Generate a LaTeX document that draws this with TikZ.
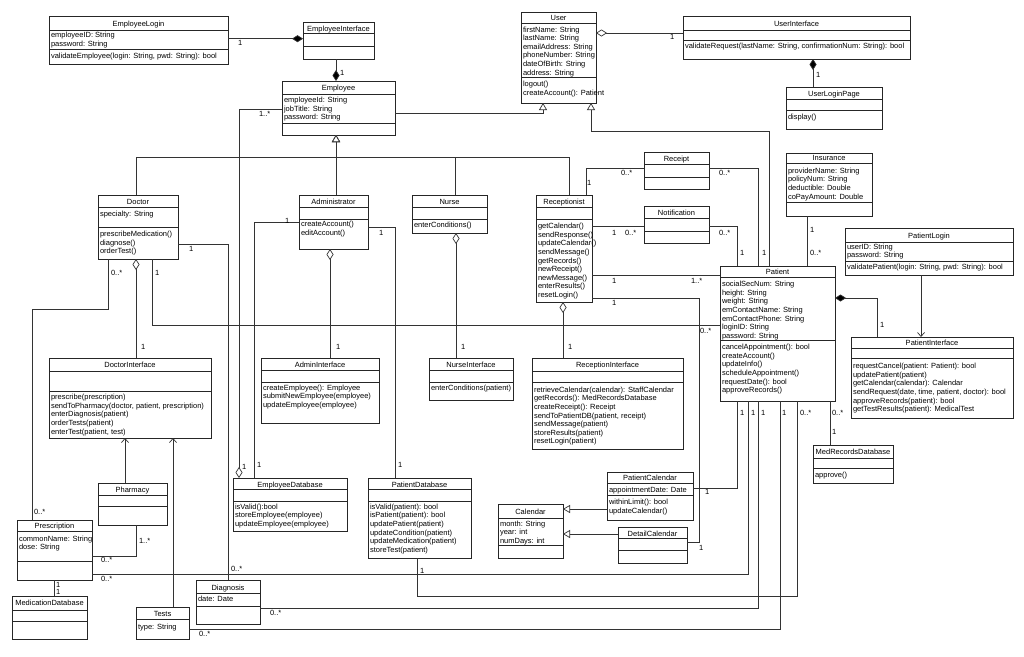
\documentclass[tikz,border=0pt]{standalone}
\usepackage{fontspec}
\setmainfont{Liberation Sans}
\usetikzlibrary{arrows.meta}
\newcounter{lb}
\tikzset{
 cls/.style={draw=black!85, line width=0.8pt, fill=white, inner sep=0pt, outer sep=0pt},
 sepl/.style={draw=black!85, line width=0.8pt},
 txt/.style={inner sep=0pt, outer sep=0pt, font=\fontsize{7.5}{8.6}\selectfont, anchor=base west},
 ttl/.style={txt, anchor=base},
 lnk/.style={draw=black!80, line width=0.7pt},
 comp/.style={lnk, -{Diamond[fill=black,length=11pt,width=7pt]}},
 aggr/.style={lnk, -{Diamond[open,fill=white,length=11pt,width=7pt]}},
 gen/.style={lnk, -{Triangle[open,fill=white,length=7pt,width=8pt]}},
 dep/.style={lnk, -{Straight Barb[length=4pt,width=7pt]}},
}
\newcommand\ubox[5]{\node[cls, minimum width={(#4)-(#2)}, minimum height={(#5)-(#3)}] (#1) at ({((#2)+(#4))/2},{((#3)+(#5))/2}) {};}
\newcommand\usep[2]{\draw[sepl] (#1.west |- 0,#2) -- (#1.east |- 0,#2);}
\newcommand\uttl[3]{\stepcounter{lb}\node[ttl, yshift=-2.7pt] (t\thelb) at (#1.north |- 0,#2) {#3};}
\newcommand\ulst[3]{\foreach \t [count=\i from 0] in {#3} {\stepcounter{lb}\node[txt, xshift=2pt, yshift={-2.7pt-\i*8.6pt}] (t\thelb) at (#1.west |- 0,#2) {\t};}}
\newcommand\ml[3]{\stepcounter{lb}\node[txt, yshift=-2.7pt] (m\thelb) at (#1,#2) {#3};}
\begin{document}
\begin{tikzpicture}[x=1pt,y=-1pt]
\useasboundingbox[fill=white] (0,0) rectangle (1024,656);
% ---------- classes ----------
\ubox{EL}{49}{16}{228}{64}\usep{EL}{30}\usep{EL}{49}
\uttl{EL}{23.5}{EmployeeLogin}
\ulst{EL}{35}{employeeID: String, password: String}
\ulst{EL}{56}{{validateEmployee(login: String, pwd: String): bool}}

\ubox{EI}{303}{22}{374}{59}\usep{EI}{33.5}\usep{EI}{46}
\uttl{EI}{28.5}{EmployeeInterface}

\ubox{Emp}{282}{81}{395}{135}\usep{Emp}{94}\usep{Emp}{123}
\uttl{Emp}{88}{Employee}
\ulst{Emp}{100}{employeeId: String, jobTitle: String, password: String}

\ubox{User}{521}{12}{596}{103}\usep{User}{23.5}\usep{User}{77.5}
\uttl{User}{18}{User}
\ulst{User}{29.3}{firstName: String, lastName: String, emailAddress: String, phoneNumber: String, dateOfBirth: String, address: String}
\ulst{User}{84}{logout(), createAccount(): Patient}

\ubox{UI}{683}{16}{910}{59}\usep{UI}{30}\usep{UI}{40}
\uttl{UI}{24}{UserInterface}
\ulst{UI}{46}{{validateRequest(lastName: String, confirmationNum: String): bool}}

\ubox{ULP}{786}{87}{882}{129}\usep{ULP}{99}\usep{ULP}{110}
\uttl{ULP}{94}{UserLoginPage}
\ulst{ULP}{117}{display()}

\ubox{Ins}{786}{153}{872}{216}\usep{Ins}{163.5}\usep{Ins}{202}
\uttl{Ins}{157.5}{Insurance}
\ulst{Ins}{170.5}{providerName: String, policyNum: String, deductible: Double, coPayAmount: Double}

\ubox{Rec}{644}{152}{709}{189}\usep{Rec}{164}\usep{Rec}{177}
\uttl{Rec}{159}{Receipt}

\ubox{Not}{644}{206}{709}{243}\usep{Not}{218}\usep{Not}{231}
\uttl{Not}{212.5}{Notification}

\ubox{Rcp}{536}{195}{592}{302}\usep{Rcp}{207}\usep{Rcp}{219.5}
\uttl{Rcp}{202}{Receptionist}
\ulst{Rcp}{226}{getCalendar(), sendResponse(), updateCalendar(), sendMessage(), getRecords(), newReceipt(), newMessage(), enterResults(), resetLogin()}

\ubox{Doc}{98}{195}{178}{259}\usep{Doc}{207}\usep{Doc}{227}
\uttl{Doc}{202}{Doctor}
\ulst{Doc}{213.5}{specialty: String}
\ulst{Doc}{234}{prescribeMedication(), diagnose(), orderTest()}

\ubox{Adm}{299}{195}{368}{249}\usep{Adm}{207}\usep{Adm}{219}
\uttl{Adm}{202}{Administrator}
\ulst{Adm}{224}{createAccount(), editAccount()}

\ubox{Nurse}{412}{195}{487}{233}\usep{Nurse}{207}\usep{Nurse}{219}
\uttl{Nurse}{202}{Nurse}
\ulst{Nurse}{225}{enterConditions()}

\ubox{DI}{49}{358}{211}{438}\usep{DI}{371}\usep{DI}{391}
\uttl{DI}{365}{DoctorInterface}
\ulst{DI}{397}{prescribe(prescription), {sendToPharmacy(doctor, patient, prescription)}, enterDiagnosis(patient), orderTests(patient), {enterTest(patient, test)}}

\ubox{AI}{261}{358}{379}{423}\usep{AI}{370}\usep{AI}{382}
\uttl{AI}{364.5}{AdminInterface}
\ulst{AI}{387.5}{createEmployee(): Employee, submitNewEmployee(employee), updateEmployee(employee)}

\ubox{NI}{429}{358}{513}{400}\usep{NI}{370}\usep{NI}{382}
\uttl{NI}{364.5}{NurseInterface}
\ulst{NI}{388}{enterConditions(patient)}

\ubox{RI}{532}{358}{683}{449}\usep{RI}{371}\usep{RI}{382}
\uttl{RI}{365}{ReceptionInterface}
\ulst{RI}{389.5}{retrieveCalendar(calendar): StaffCalendar, getRecords(): MedRecordsDatabase, createReceipt(): Receipt, {sendToPatientDB(patient, receipt)}, sendMessage(patient), storeResults(patient), resetLogin(patient)}

\ubox{Pat}{720}{266}{835}{401}\usep{Pat}{277.5}\usep{Pat}{340.5}
\uttl{Pat}{272}{Patient}
\ulst{Pat}{284}{socialSecNum: String, height: String, weight: String, emContactName: String, emContactPhone: String, loginID: String, password: String}
\ulst{Pat}{347}{cancelAppointment(): bool, createAccount(), updateInfo(), scheduleAppointment(), requestDate(): bool, approveRecords()}

\ubox{PL}{845}{228}{1013}{275}\usep{PL}{242}\usep{PL}{261}
\uttl{PL}{236}{PatientLogin}
\ulst{PL}{246.5}{userID: String, password: String}
\ulst{PL}{267}{{validatePatient(login: String, pwd: String): bool}}

\ubox{PI}{851}{337}{1013}{418}\usep{PI}{348}\usep{PI}{358}
\uttl{PI}{343}{PatientInterface}
\ulst{PI}{366}{requestCancel(patient: Patient): bool, updatePatient(patient), getCalendar(calendar): Calendar, {sendRequest(date, time, patient, doctor): bool}, approveRecords(patient): bool, getTestResults(patient): MedicalTest}

\ubox{MRD}{813}{445}{893}{483}\usep{MRD}{458}\usep{MRD}{468}
\uttl{MRD}{452}{MedRecordsDatabase}
\ulst{MRD}{475}{approve()}

\ubox{Ph}{98}{483}{167}{525}\usep{Ph}{495}\usep{Ph}{506}
\uttl{Ph}{489.5}{Pharmacy}

\ubox{Pre}{17}{520}{92}{580}\usep{Pre}{531}\usep{Pre}{561}
\uttl{Pre}{526}{Prescription}
\ulst{Pre}{538.5}{commonName: String, dose: String}

\ubox{MD}{12}{596}{87}{639}\usep{MD}{610}\usep{MD}{621}
\uttl{MD}{603}{MedicationDatabase}

\ubox{Tests}{136}{607}{189}{639}\usep{Tests}{619.5}
\uttl{Tests}{614}{Tests}
\ulst{Tests}{626.5}{type: String}

\ubox{Dia}{196}{580}{260}{624}\usep{Dia}{593}\usep{Dia}{606}
\uttl{Dia}{587.5}{Diagnosis}
\ulst{Dia}{599}{date: Date}

\ubox{ED}{233}{478}{347}{531}\usep{ED}{489.5}\usep{ED}{501}
\uttl{ED}{484.5}{EmployeeDatabase}
\ulst{ED}{506.5}{isValid():bool, storeEmployee(employee), updateEmployee(employee)}

\ubox{PD}{368}{478}{471}{558}\usep{PD}{489.5}\usep{PD}{501}
\uttl{PD}{484.5}{PatientDatabase}
\ulst{PD}{506.5}{isValid(patient): bool, isPatient(patient): bool, updatePatient(patient), updateCondition(patient), updateMedication(patient), storeTest(patient)}

\ubox{Cal}{498}{504}{563}{558}\usep{Cal}{518.5}\usep{Cal}{545}
\uttl{Cal}{511.5}{Calendar}
\ulst{Cal}{523.5}{month: String, year: int, numDays: int}

\ubox{PC}{607}{472}{693}{520}\usep{PC}{483}\usep{PC}{495}
\uttl{PC}{478}{PatientCalendar}
\ulst{PC}{489.5}{appointmentDate: Date}
\ulst{PC}{502}{withinLimit(): bool, updateCalendar()}

\ubox{DC}{618}{527}{687}{563}\usep{DC}{538.5}\usep{DC}{550}
\uttl{DC}{533.5}{DetailCalendar}

% ---------- connectors ----------
\draw[comp] (EL.east |- 0,38.7) -- (EI.west |- 0,38.7);
\draw[comp] (EI.south -| 336,0) -- (Emp.north -| 336,0);
\draw[gen] (Doc.north -| 136,0) |- (336,157) -- (Emp.south -| 336,0);
\draw[gen] (Adm.north -| 336,0) -- (Emp.south -| 336,0);
\draw[gen] (Nurse.north -| 455,0) |- (336,157) -- (Emp.south -| 336,0);
\draw[gen] (Rcp.north -| 569,0) |- (336,157) -- (Emp.south -| 336,0);
\draw[gen] (Emp.east |- 0,113) -| (User.south -| 543,0);
\draw[gen] (Pat.north -| 769,0) |- (591,131) -- (User.south -| 591,0);
\draw[aggr] (UI.west |- 0,33) -- (User.east |- 0,33);
\draw[comp] (ULP.north -| 813,0) -- (UI.south -| 813,0);
\draw[aggr] (Emp.west |- 0,109) -| (ED.north -| 239,0);
\draw[lnk] (Adm.west |- 0,222) -| (ED.north -| 254,0);
\draw[lnk] (Adm.east |- 0,227) -| (PD.north -| 395,0);
\draw[aggr] (AI.north -| 330,0) -- (Adm.south -| 330,0);
\draw[aggr] (NI.north -| 456,0) -- (Nurse.south -| 456,0);
\draw[aggr] (DI.north -| 136,0) -- (Doc.south -| 136,0);
\draw[aggr] (RI.north -| 563,0) -- (Rcp.south -| 563,0);
\draw[lnk] (Doc.south -| 108,0) |- (32,309) -- (Pre.north -| 32,0);
\draw[lnk] (Doc.east |- 0,244) -| (Dia.north -| 228,0);
\draw[lnk] (Doc.south -| 152,0) |- (Pat.west |- 0,325);
\draw[dep] (Ph.north -| 125,0) -- (DI.south -| 125,0);
\draw[dep] (Tests.north -| 173,0) -- (DI.south -| 173,0);
\draw[lnk] (Ph.south -| 136,0) |- (Pre.east |- 0,556);
\draw[lnk] (Pre.south -| 54,0) -- (MD.north -| 54,0);
\draw[lnk] (Pre.east |- 0,574) -| (Pat.south -| 748,0);
\draw[lnk] (PD.south -| 417,0) |- (797,596) -- (Pat.south -| 797,0);
\draw[lnk] (Dia.east |- 0,608) -| (Pat.south -| 758,0);
\draw[lnk] (Tests.east |- 0,629) -| (Pat.south -| 780,0);
\draw[lnk] (Pat.south -| 737,0) |- (PC.east |- 0,488);
\draw[lnk] (Rcp.east |- 0,298) -| (699,542) -- (DC.east |- 0,542);
\draw[gen] (PC.west |- 0,509) -- (Cal.east |- 0,509);
\draw[gen] (DC.west |- 0,534) -- (Cal.east |- 0,534);
\draw[lnk] (Rcp.north -| 586,0) |- (Rec.west |- 0,168);
\draw[lnk] (Rec.east |- 0,168) -| (Pat.north -| 758,0);
\draw[lnk] (Rcp.east |- 0,226) -- (Not.west |- 0,226);
\draw[lnk] (Not.east |- 0,226) -| (Pat.north -| 737,0);
\draw[lnk] (Rcp.east |- 0,275) -- (Pat.west |- 0,275);
\draw[lnk] (Ins.south -| 807,0) -- (Pat.north -| 807,0);
\draw[comp] (PI.north -| 877,0) |- (Pat.east |- 0,298);
\draw[dep] (PL.south -| 921,0) -- (PI.north -| 921,0);
\draw[lnk] (Pat.south -| 830,0) -- (MRD.north -| 830,0);

% ---------- multiplicities ----------
\ml{238}{43}{1}
\ml{340}{73}{1}
\ml{670}{37}{1}
\ml{816}{75}{1}
\ml{259}{114}{1..*}
\ml{242}{467}{1}
\ml{285}{221}{1}
\ml{257}{465}{1}
\ml{379}{233}{1}
\ml{398}{465}{1}
\ml{336}{347}{1}
\ml{461}{347}{1}
\ml{141}{347}{1}
\ml{568}{347}{1}
\ml{111}{273}{0..*}
\ml{34}{512}{0..*}
\ml{189}{249}{1}
\ml{231}{569}{0..*}
\ml{155}{273}{1}
\ml{700}{331}{0..*}
\ml{139}{541}{1..*}
\ml{101}{560}{0..*}
\ml{56}{585}{1}
\ml{56}{592}{1}
\ml{101}{579}{0..*}
\ml{751}{413}{1}
\ml{420}{571}{1}
\ml{800}{413}{0..*}
\ml{270}{613}{0..*}
\ml{761}{413}{1}
\ml{782}{413}{1}
\ml{199}{634}{0..*}
\ml{740}{413}{1}
\ml{705}{492}{1}
\ml{612}{303}{1}
\ml{699}{548}{1}
\ml{587}{183}{1}
\ml{621}{173}{0..*}
\ml{719}{173}{0..*}
\ml{762}{253}{1}
\ml{612}{233}{1}
\ml{625}{233}{0..*}
\ml{719}{233}{0..*}
\ml{740}{253}{1}
\ml{612}{281}{1}
\ml{691}{281}{1..*}
\ml{810}{230}{1}
\ml{810}{253}{0..*}
\ml{880}{325}{1}
\ml{832}{413}{0..*}
\ml{832}{432}{1}
\end{tikzpicture}
\end{document}
